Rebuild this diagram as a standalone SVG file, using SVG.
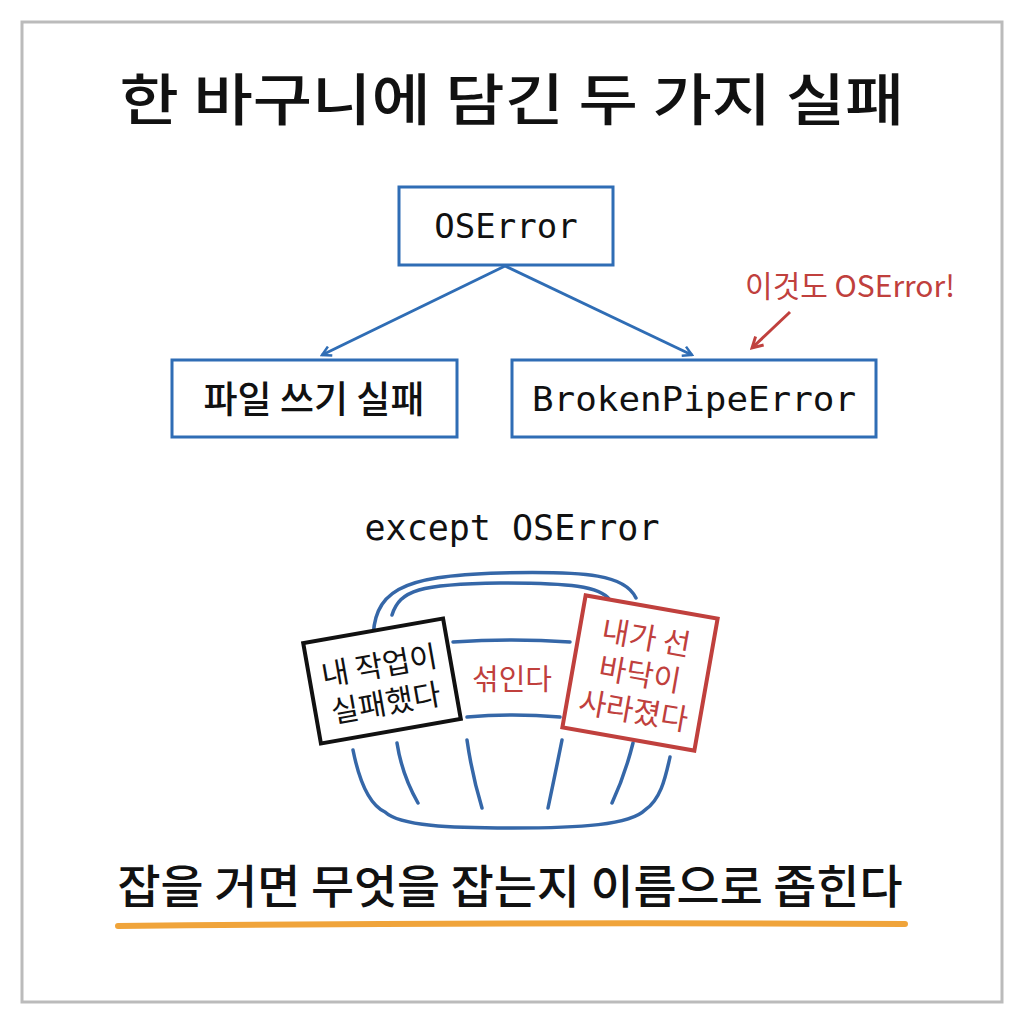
<svg xmlns="http://www.w3.org/2000/svg" width="1024" height="1024" viewBox="0 0 1024 1024">
<style>
.k{font-family:"Noto Sans CJK KR","Noto Sans",sans-serif}
.m{font-family:"DejaVu Sans Mono","Liberation Mono",monospace}
.box{fill:#fff;stroke:#2f6db5;stroke-width:3}
.b{fill:none;stroke:#3567a8;stroke-width:3.5;stroke-linecap:round}
.c{fill:none;stroke:#2f6db5;stroke-width:3}
</style>
<defs>
<marker id="ab" viewBox="0 0 12 12" refX="10" refY="6" markerWidth="12" markerHeight="12" markerUnits="userSpaceOnUse" orient="auto"><path d="M1,1 L10,6 L1,11" fill="none" stroke="#2f6db5" stroke-width="2.5"/></marker>
<marker id="ar" viewBox="0 0 12 12" refX="10" refY="6" markerWidth="14" markerHeight="14" markerUnits="userSpaceOnUse" orient="auto"><path d="M1,1 L10,6 L1,11" fill="none" stroke="#c0403d" stroke-width="2.5"/></marker>
</defs>
<rect width="1024" height="1024" fill="#fff"/>
<rect x="22" y="22" width="980" height="980" fill="none" stroke="#bbb" stroke-width="3"/>
<text class="k" x="512" y="120" font-size="56" font-weight="500" text-anchor="middle" fill="#111" textLength="785" lengthAdjust="spacingAndGlyphs">한 바구니에 담긴 두 가지 실패</text>
<g id="connectors">
<path class="c" d="M505,266 L322,355" marker-end="url(#ab)"/>
<path class="c" d="M505,266 L692,355" marker-end="url(#ab)"/>
<path d="M790,312 L752,348" fill="none" stroke="#c0403d" stroke-width="3" marker-end="url(#ar)"/>
</g>
<g id="oserror"><rect class="box" x="399" y="187" width="214" height="78"/><text class="m" x="506" y="238" font-size="34" text-anchor="middle" fill="#111">OSError</text></g>
<g id="filefail"><rect class="box" x="172" y="360" width="285" height="77"/><text class="k" x="314" y="413" font-size="37" font-weight="500" text-anchor="middle" fill="#111">파일 쓰기 실패</text></g>
<g id="brokenpipe"><rect class="box" x="512" y="360" width="364" height="77"/><text class="m" x="694" y="411" font-size="34" text-anchor="middle" fill="#111" textLength="324" lengthAdjust="spacingAndGlyphs">BrokenPipeError</text></g>
<g id="note"><text class="k" x="850" y="297" font-size="30" text-anchor="middle" fill="#c0403d">이것도 OSError!</text></g>
<text class="m" x="512" y="540" font-size="35" text-anchor="middle" fill="#111">except OSError</text>
<g id="basket">
<path class="b" d="M373,645 C372,590 400,576 500,573 C590,571 625,575 636,598"/>
<path class="b" d="M392,615 C400,590 420,584 500,583 C570,583 600,586 610,600"/>
<path class="b" d="M453,642 Q512,638 570,642"/>
<path class="b" d="M467,717 Q512,713 560,717"/>
<path class="b" d="M353,750 C360,785 370,805 385,812 C400,826 450,828 512,828 C580,828 630,825 645,810 C660,800 665,780 670,757"/>
<path class="b" d="M397,743 Q402,775 418,803"/>
<path class="b" d="M467,740 Q472,775 482,808"/>
<path class="b" d="M562,740 Q555,775 548,808"/>
<path class="b" d="M633,743 Q625,775 612,803"/>
</g>
<text class="k" x="512" y="690" font-size="29" text-anchor="middle" fill="#c0403d">섞인다</text>
<g id="sign1" transform="rotate(-10 382 681)">
<rect x="311" y="630" width="142" height="102" fill="#fff" stroke="#111" stroke-width="4"/>
<text class="k" x="382" y="676" font-size="30" text-anchor="middle" fill="#111">내 작업이</text>
<text class="k" x="382" y="714" font-size="30" text-anchor="middle" fill="#111">실패했다</text>
</g>
<g id="sign2" transform="rotate(10 640 673)">
<rect x="573" y="606" width="134" height="134" fill="#fff" stroke="#c0403d" stroke-width="4"/>
<text class="k" x="640" y="648" font-size="30" text-anchor="middle" fill="#c0403d">내가 선</text>
<text class="k" x="640" y="685" font-size="30" text-anchor="middle" fill="#c0403d">바닥이</text>
<text class="k" x="640" y="722" font-size="30" text-anchor="middle" fill="#c0403d">사라졌다</text>
</g>
<text class="k" x="510" y="903" font-size="46" font-weight="500" text-anchor="middle" fill="#111" textLength="785" lengthAdjust="spacingAndGlyphs">잡을 거면 무엇을 잡는지 이름으로 좁힌다</text>
<path d="M118,926 Q510,922 905,924" fill="none" stroke="#f0a43a" stroke-width="6" stroke-linecap="round"/>
</svg>
